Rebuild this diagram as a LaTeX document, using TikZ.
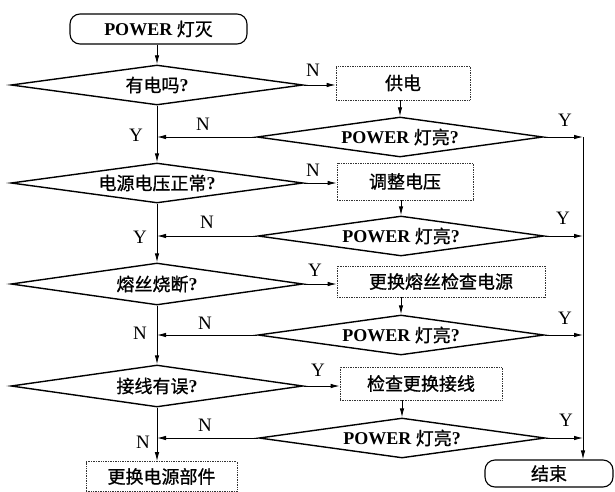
\documentclass[tikz,border=0pt]{standalone}
\usepackage{fontspec}
\setmainfont{Liberation Serif}
\newfontfamily\cjk{Noto Sans CJK SC}[FakeBold=0.9]
\usetikzlibrary{shapes.geometric,arrows.meta}
\newcommand{\zh}[1]{{\cjk\mdseries #1}}
\tikzset{
  every node/.style={font=\fontsize{18}{20}\selectfont\bfseries},
  dia/.style={draw, line width=1.4pt, shape=diamond, aspect=7, inner sep=0pt, minimum width=292pt, minimum height=40pt},
  pdia/.style={dia, minimum width=286pt},
  stepbox/.style={draw=black!80, densely dotted, line width=0.7pt, inner sep=0pt},
  term/.style={draw, line width=1.1pt, rounded corners=10pt, inner sep=0pt},
  arr/.style={line width=0.9pt, -{Latex[length=9pt,width=4.5pt]}},
  lab/.style={font=\fontsize{19}{21}\selectfont, inner sep=0pt}
}
\begin{document}
\begin{tikzpicture}[x=1pt,y=-1pt]
\useasboundingbox (0,0) rectangle (615,492);
% start / end
\node[term, minimum width=177pt, minimum height=30pt] (start) at (158.5,29) {POWER \zh{灯灭}};
\node[term, minimum width=128pt, minimum height=27pt] (end) at (549,473.5) {\zh{结束}};
% left diamonds
\node[dia] (d1) at (157,85) {\zh{有电吗}?};
\node[dia] (d2) at (157,183) {\zh{电源电压正常}?};
\node[dia, minimum height=42pt] (d3) at (157,284) {\zh{熔丝烧断}?};
\node[dia, minimum height=42pt] (d4) at (157,386) {\zh{接线有误}?};
% right diamonds
\node[pdia] (p1) at (400,137) {POWER \zh{灯亮}?};
\node[pdia] (p2) at (401,236) {POWER \zh{灯亮}?};
\node[pdia] (p3) at (401,335) {POWER \zh{灯亮}?};
\node[pdia] (p4) at (402,438) {POWER \zh{灯亮}?};
% boxes
\node[stepbox, minimum width=134pt, minimum height=34pt] (b1) at (403,83) {\zh{供电}};
\node[stepbox, minimum width=136pt, minimum height=37pt] (b2) at (405,181.5) {\zh{调整电压}};
\node[stepbox, minimum width=208pt, minimum height=31pt] (b3) at (441,281.5) {\zh{更换熔丝检查电源}};
\node[stepbox, minimum width=162pt, minimum height=33pt] (b4) at (421,383.5) {\zh{检查更换接线}};
\node[stepbox, minimum width=151pt, minimum height=30pt] (b5) at (161.5,476.5) {\zh{更换电源部件}};
% right collector line
\coordinate (rtop) at (583,137);
% main line
\draw[arr] (start.south -| d1.north) -- (d1.north);
\draw[arr] (d1.south) -- (d2.north);
\draw[arr] (d2.south) -- (d3.north);
\draw[arr] (d3.south) -- (d4.north);
\draw[arr] (d4.south) -- (d4.south |- b5.north);
% to boxes
\draw[arr] (d1.east) -- (d1.east -| b1.west);
\draw[arr] (d2.east) -- (d2.east -| b2.west);
\draw[arr] (d3.east) -- (d3.east -| b3.west);
\draw[arr] (d4.east) -- (d4.east -| b4.west);
% boxes to checks
\draw[arr] (b1.south -| p1.north) -- (p1.north);
\draw[arr] (b2.south -| p2.north) -- (p2.north);
\draw[arr] (b3.south -| p3.north) -- (p3.north);
\draw[arr] (b4.south -| p4.north) -- (p4.north);
% N back to main line
\draw[arr] (p1.west) -- (p1.west -| d1.south);
\draw[arr] (p2.west) -- (p2.west -| d1.south);
\draw[arr] (p3.west) -- (p3.west -| d1.south);
\draw[arr] (p4.west) -- (p4.west -| d1.south);
% Y to collector
\draw[arr] (p1.east) -- (p1.east -| rtop);
\draw[arr] (p2.east) -- (p2.east -| rtop);
\draw[arr] (p3.east) -- (p3.east -| rtop);
\draw[arr] (p4.east) -- (p4.east -| rtop);
\draw[arr] (rtop) -- (rtop |- end.north);
% labels
\node[lab] (l1) at (313,70) {N};
\node[lab] (l2) at (313,170) {N};
\node[lab] (l3) at (315,270) {Y};
\node[lab] (l4) at (318,370) {Y};
\node[lab] (l5) at (565,120) {Y};
\node[lab] (l6) at (563,218) {Y};
\node[lab] (l7) at (565,318) {Y};
\node[lab] (l8) at (566,420) {Y};
\node[lab] (l9) at (203,124) {N};
\node[lab] (l10) at (207,222) {N};
\node[lab] (l11) at (205,323) {N};
\node[lab] (l12) at (205,425) {N};
\node[lab] (l13) at (136,135) {Y};
\node[lab] (l14) at (140,237) {Y};
\node[lab] (l15) at (140,333) {N};
\node[lab] (l16) at (143,442) {N};
\end{tikzpicture}
\end{document}
